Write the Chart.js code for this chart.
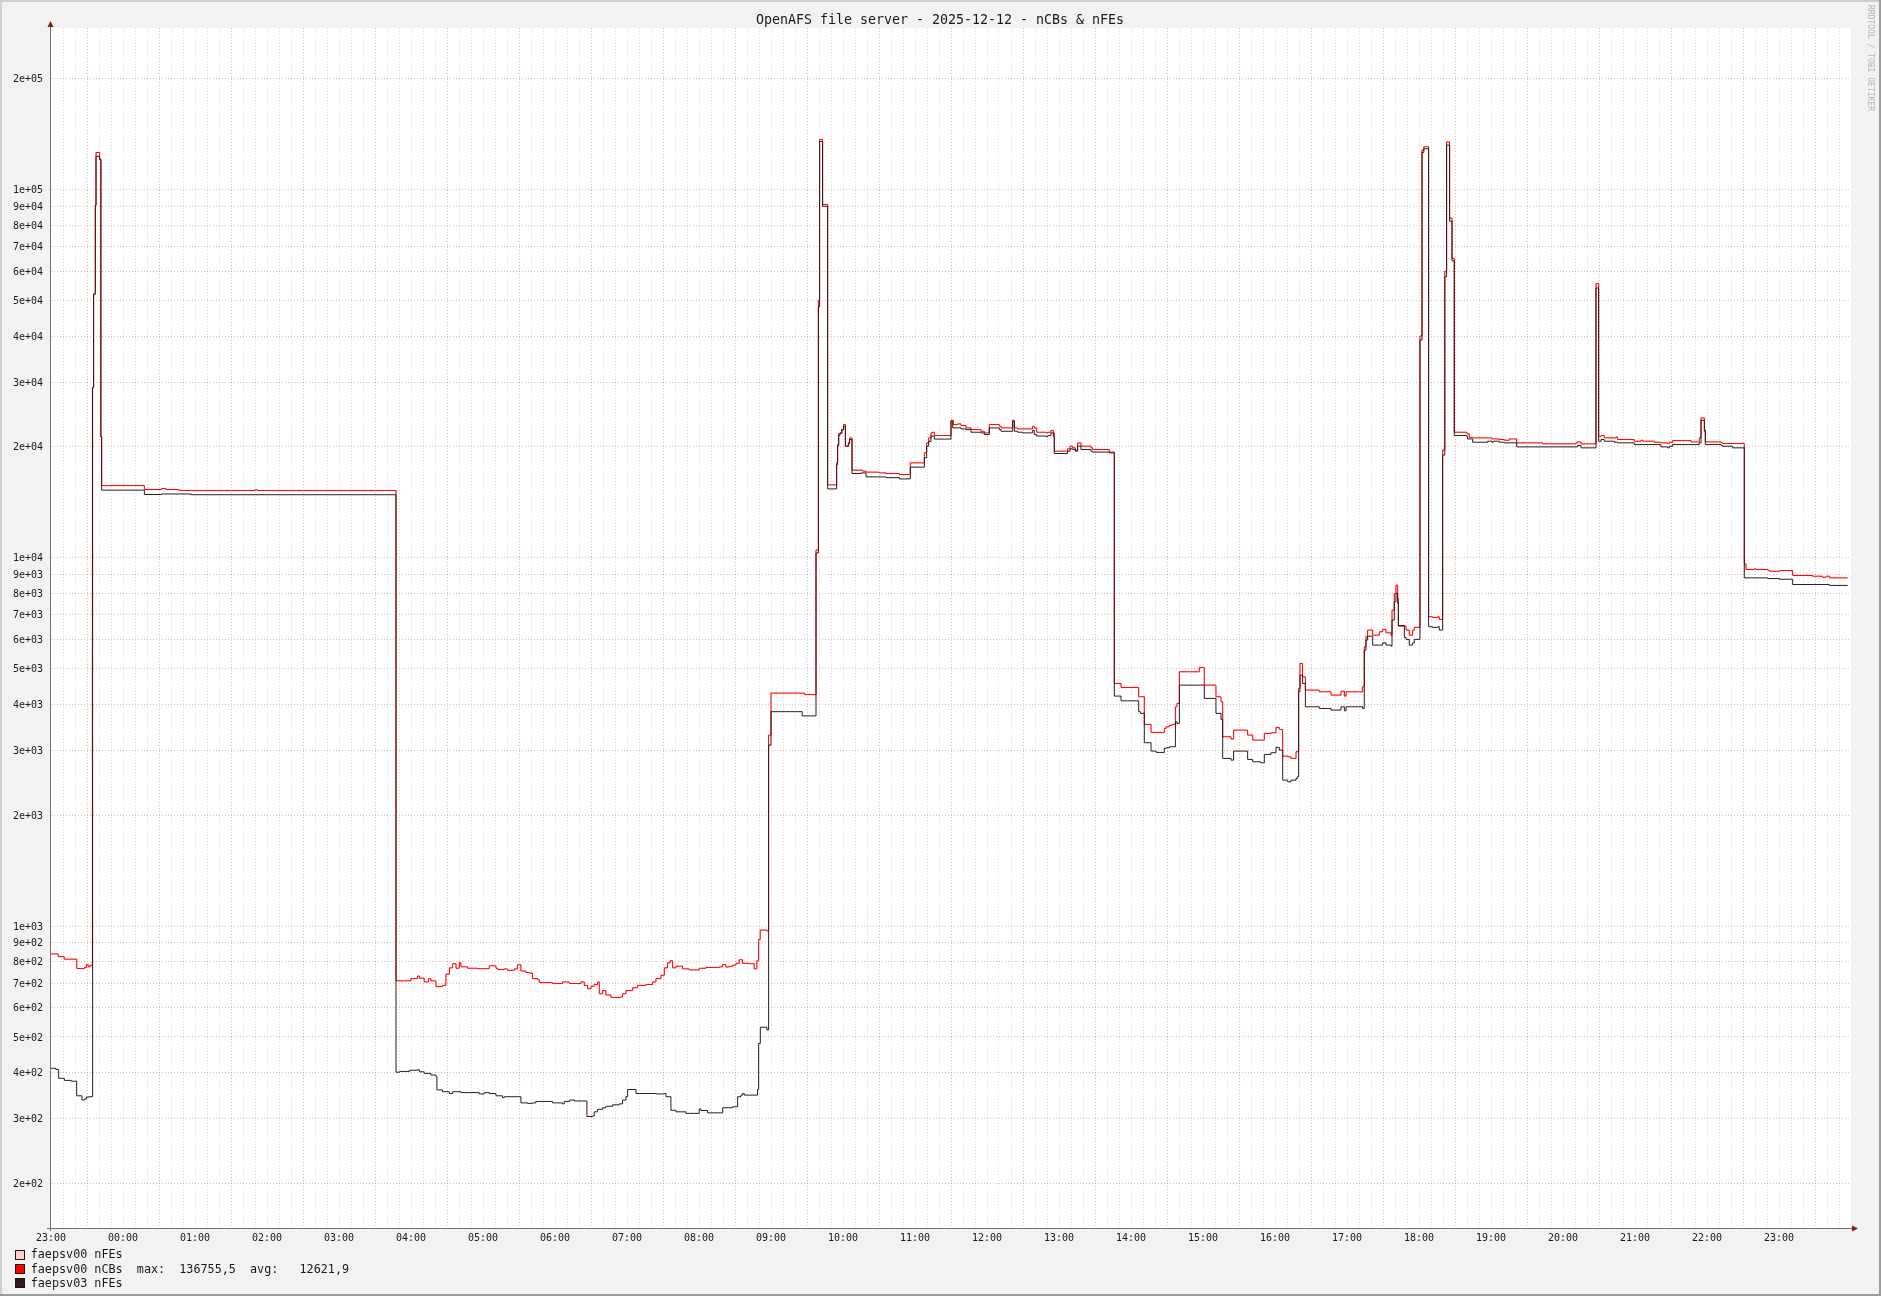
<!DOCTYPE html>
<html><head><meta charset="utf-8">
<script src="https://cdn.jsdelivr.net/npm/chart.js@4.4.1/dist/chart.umd.min.js"></script>
<style>html,body{margin:0;padding:0;background:#f2f2f2;overflow:hidden}canvas{display:block}</style>
</head><body>
<canvas id="c" width="1881" height="1296" style="width:1881px;height:1296px"></canvas>
<script>
// ---- texts ----
const chartTitle = 'OpenAFS file server - 2025-12-12 - nCBs & nFEs';
const watermark = 'RRDTOOL / TOBI OETIKER';
const legendLabels = ['faepsv00 nFEs', 'faepsv00 nCBs  max:  136755,5  avg:   12621,9', 'faepsv03 nFEs'];
const seriesNames = ['faepsv00 nFEs', 'faepsv00 nCBs', 'faepsv03 nFEs'];

// ---- axes ----
// x values are minutes since 2025-12-11 23:00
const xMin = 0, xMax = 1500;
const xTickLabels = ['23:00','00:00','01:00','02:00','03:00','04:00','05:00','06:00','07:00','08:00','09:00','10:00','11:00','12:00','13:00','14:00','15:00','16:00','17:00','18:00','19:00','20:00','21:00','22:00','23:00'];
const xGridMinutes = Array.from({length: 151}, (_, i) => i * 10);
const yMin = 151.4, yMax = 274400;
const yTickValues = [200,300,400,500,600,700,800,900,1000,2000,3000,4000,5000,6000,7000,8000,9000,10000,20000,30000,40000,50000,60000,70000,80000,90000,100000,200000];
const yTickLabels = ['2e+02','3e+02','4e+02','5e+02','6e+02','7e+02','8e+02','9e+02','1e+03','2e+03','3e+03','4e+03','5e+03','6e+03','7e+03','8e+03','9e+03','1e+04','2e+04','3e+04','4e+04','5e+04','6e+04','7e+04','8e+04','9e+04','1e+05','2e+05'];

// ---- data: faepsv00 nCBs (step changes: minute, value) ----
const nCBs00Minutes = [0,6,11,21.5,26,28,29.5,31,32.5,34.5,35.5,37,37.5,40.5,41.5,42.2,77.8,92.2,95.8,106.9,170,172,
287.5,300,305.5,307,311,314.7,316.6,320.8,326.3,329.1,332,334.7,337.5,340.2,341.6,347.2,355.5,365.2,370.8,372.2,377.7,380.5,386,388.8,391.6,395.8,398.6,401.3,405.5,406.9,418,426.3,431.9,441.6,444.4,447.2,450,452.7,455.5,456.9,459.7,462.4,466.6,475,476.3,479.1,484.7,488.8,495.8,501.3,504.1,508.3,511.1,513.8,516,518,520.8,526.3,531.9,540.2,545.8,556.9,559.7,562.4,565.2,568,570.8,573.5,576.3,581.9,586,588.2,589.7,591,596.5,
598,600,628,637.5,639.5,640.5,643,647.2,654.7,655.5,656.4,659,660.5,662,664.5,665.5,667.5,676.4,679.2,690.3,695.8,707,716.1,727.8,729.7,731.4,733.3,734.7,736.1,750,751.9,755.5,758.3,762.5,766.7,775,777.8,781.9,790.3,791.7,801.4,802.8,805.5,818,819.4,821.4,829.2,830.5,833.3,835.3,836.1,847.2,849.2,851.4,853.6,855.5,858.3,866.7,868,881.9,
886.1,891.7,906.4,911.1,916.7,927.8,929.2,931.9,934.2,937,938.3,940.3,956.9,961.1,970.8,975,976.4,983.3,985.5,997.2,1001.4,1011.1,1016.7,1020.8,1023.6,1026.4,1030.6,1033.3,1037.5,1039.7,1040.8,1043,1045.3,1056.9,1066.7,1075,1077.8,1079.2,1093,1094.4,1095.8,1097.2,1101.4,1107,1109.7,1112.5,1116.7,1117.5,1119.4,1120.8,1122.2,1122.8,1129.2,1131.9,1134.7,1136.1,
1140.8,1142.5,1144,1148,1151.4,1155.6,1156.9,1159.7,1161.5,1163,1165.5,1167.5,1169.4,1180,1181.9,1184.7,1200.8,1206.9,1211.1,1215.3,1221.4,1243,1270.8,1272.2,1275,1287.5,1289.7,1291.7,1294.4,1304.2,1305.5,1319.4,1325,1326.4,1336.1,1341.7,1347.2,1348.6,1351.4,1366.7,1373.6,1375,1377.8,1378.6,1391.7,1393,1411.1,1412.5,1419.4,1420.8,1430.6,1432,1440.3,1451.4,1468,1476.4,1479.2,1482,1497.2];
const nCBs00Values = [840,826,813,767,766,772,786,775,782,29000,52000,90600,126000,121000,21300,15700,15320,15420,15320,15230,15300,15230,
710,720,732,722,705,720,710,685,690,740,770,790,768,795,775,768,766,780,768,762,765,758,765,785,755,748,745,720,715,702,698,705,698,705,690,676,686,694,705,655,668,650,640,642,655,668,680,690,694,705,720,735,770,795,805,770,778,765,760,768,772,775,786,774,777,783,792,810,792,790,765,805,920,975,970,
3300,4290,4250,10500,50000,136755,91000,15770,18100,20300,21740,22280,22990,20090,20590,21160,17290,17190,17080,17000,16930,16820,18100,19270,20500,21160,21830,21920,21470,23620,22990,23090,22850,22520,22280,22050,21830,22990,22760,22520,23620,22520,22380,22760,22520,21920,21830,21920,22170,21830,19470,19760,20090,19880,19590,20500,20090,19880,19670,19360,
4557,4445,4193,3527,3356,3440,3476,3505,3527,3939,4022,4902,5037,4510,4193,4064,3266,3220,3404,3300,3198,3334,3348,3462,3418,2893,2881,2852,2974,4418,5164,4750,4372,4326,4237,4344,4210,4326,4465,5731,6101,6362,6164,6296,6390,6254,6164,7208,7998,8427,7755,6522,6362,6164,6362,6471,
40000,128000,130600,6914,6886,6914,6800,19600,60000,134600,83600,65000,21920,21690,21230,21160,21020,20940,20850,21020,20510,20380,20510,20630,20380,55500,21380,21470,21160,21280,20940,20720,20850,20720,20590,20510,20420,20590,20800,20630,21160,23970,22280,20630,20510,20420,9625,9290,9330,9290,9250,9190,9230,8948,8910,8850,8910,8818,8818];

// ---- data: faepsv03 nFEs ----
const nFEs03Minutes = [0,4,6.4,11.1,17,21.4,25.8,27.8,29.5,31.4,34.7,35.5,36.9,37.5,40.5,41.6,42.2,77.8,92.2,116.7,
287.5,290.5,299,305.5,307,311,316.6,320.8,321.6,326.3,331.9,334.7,341.6,356.9,361,365.2,370.8,376.3,377.7,391.6,397.2,401.3,404,418,426.3,427.7,432,436,446.6,451.4,452.7,455.5,459.7,462.4,468,473.5,476.3,479.1,480.5,487.5,504.1,511.1,512.5,516.6,520.8,529.1,540.2,541.6,547.2,559.7,568,572.2,575,576.3,577.7,588.8,589.7,591.1,596.6,
598,600,626,637.5,639.5,640.5,643,647.2,654.7,655.5,656.4,657.5,659,660.5,662,664.5,665.5,667.5,675,679.2,695.8,707,716.1,727.8,729.7,731.4,733.3,736.1,750,751.4,758.3,762.5,766.7,775,777.8,781.9,790.3,791.7,801.4,802.8,805.5,809.7,818,819.4,821.4,829.2,830.5,833.3,835.3,836.1,847.2,849.2,851.4,853.6,855.5,858.3,866.7,868,881.9,
886.1,891.7,906.4,908,911.1,916.7,921,927.8,929.2,931.9,937,938.3,940.3,961.1,970.8,975,976.4,983.3,985.5,997.2,1001.4,1008,1011.1,1016.7,1020.8,1023.6,1026.4,1030.6,1033.3,1037.5,1038.6,1039.7,1040.8,1043,1045.3,1056.9,1066.7,1075,1077.8,1079.2,1093,1094.4,1095.8,1097.2,1101.4,1109.7,1112.5,1116.7,1117.5,1119.4,1120.8,1122.2,1122.8,1127.8,1129.2,1131.9,1134.7,1136.1,
1140.8,1142.5,1144,1148,1151.4,1155.6,1156.9,1159.7,1161.5,1163,1165.5,1167.5,1169.4,1180,1180.5,1184.7,1197.2,1200.8,1201.9,1206.9,1211.1,1221.4,1270.8,1272.2,1275,1287.5,1289.7,1291.7,1294.4,1302.8,1305.5,1319.4,1341.7,1347.2,1348.6,1351.4,1373.6,1375,1377.8,1378.6,1391.7,1393,1401.4,1411.1,1430.6,1440.3,1451.4,1482,1497.2];
const nFEs03Values = [411,408,386,381,379,346,337,339,343,344,29000,52000,90600,123000,120500,21300,15260,14850,14900,14830,
401,403,406,407,402,398,394,390,359,355,351,355,353,350,353,351,346,342,344,331,330,331,334,331,329,334,337,335,304,305,313,318,321,324,327,329,337,344,360,351,350,351,344,316,313,310,318.5,315.6,311,321,323,344,347.5,351,347.5,360,480,531,522,
3100,3820,3720,10300,48000,135000,90000,15380,17910,20090,21470,21830,22280,22760,20090,20400,20940,16930,17000,16580,16500,16370,17620,18670,20090,20700,21400,21000,23480,22520,22380,22280,21920,21830,21600,22520,22280,22050,23480,22050,21920,21830,22170,21600,21400,21300,21470,21830,21300,19190,19470,19760,19670,19470,20090,19670,19470,19360,19270,
4211,4088,3818,3779,3146,2986,2961,3036,3049,3068,3586,3549,4510,4150,3779,3639,2852,2822,2986,2834,2793,2775,2924,2955,3055,3005,2490,2464,2490,2516,2543,4326,4799,4557,3939,3898,3858,3939,3840,3939,3898,5612,5976,6126,5792,5876,5792,5752,6771,7594,7998,7515,6547,6076,6002,5792,5876,6002,
39000,126000,129000,6497,6471,6497,6362,19000,58000,132000,82000,64000,21470,21280,21020,20590,20720,20590,20720,20590,20510,20000,20000,20170,19880,54000,20720,20940,20720,20590,20510,20290,20000,19880,20080,20290,20510,23620,22050,20290,20170,20080,19880,8818,8780,8743,8459,8412,8412];

// faepsv00 nFEs: follows nCBs exactly in the picture (hidden beneath it)
const nFEs00Minutes = nCBs00Minutes;
const nFEs00Values = nCBs00Values;

const seriesColors = ['#ffcccc', '#ff0000', '#2d1d1d'];

const toPoints = (ts, vs) => ts.map((t, i) => ({x: t, y: vs[i]}));
const FONT = "'DejaVu Sans Mono', 'Liberation Mono', monospace";

const decor = {
  id: 'decor',
  beforeDraw(chart) {
    const c = chart.ctx, a = chart.chartArea, W = chart.width, H = chart.height;
    c.save();
    c.fillStyle = '#f2f2f2'; c.fillRect(0, 0, W, H);
    c.fillStyle = '#ffffff'; c.fillRect(a.left, a.top, a.right - a.left, a.bottom - a.top);
    c.fillStyle = '#cfcfcf'; c.fillRect(0, 0, W, 2); c.fillRect(0, 0, 2, H);
    c.fillStyle = '#9c9c9c'; c.fillRect(0, H - 2, W, 2); c.fillRect(W - 2, 0, 2, H);
    c.restore();
  },
  beforeDatasetsDraw(chart) {
    const c = chart.ctx, a = chart.chartArea;
    c.save();
    c.strokeStyle = '#707070'; c.lineWidth = 1;
    c.beginPath();
    c.moveTo(a.left - 0.5, a.bottom + 3); c.lineTo(a.left - 0.5, a.top - 2);
    c.moveTo(a.left - 4, a.bottom + 0.5); c.lineTo(a.right + 2, a.bottom + 0.5);
    c.stroke();
    c.fillStyle = '#8b1a1a';
    c.beginPath();
    c.moveTo(a.left - 0.5, a.top - 7); c.lineTo(a.left - 3.5, a.top - 1); c.lineTo(a.left + 2.5, a.top - 1); c.closePath(); c.fill();
    c.beginPath();
    c.moveTo(a.right + 7, a.bottom + 0.5); c.lineTo(a.right + 1, a.bottom - 2.5); c.lineTo(a.right + 1, a.bottom + 3.5); c.closePath(); c.fill();
    c.restore();
  },
  afterDraw(chart) {
    const c = chart.ctx;
    c.save();
    c.fillStyle = '#1a1a1a';
    c.font = '13.3px ' + FONT;
    c.textAlign = 'center'; c.textBaseline = 'middle';
    c.fillText(chartTitle, 940, 20.5);
    // legend
    c.font = '11.75px ' + FONT;
    c.textAlign = 'left';
    const rows = [1254.5, 1269, 1283.3];
    legendLabels.forEach((t, i) => {
      c.fillStyle = seriesColors[i];
      c.fillRect(15.5, Math.round(rows[i]) - 4.5, 9, 9);
      c.strokeStyle = '#1a1a1a'; c.lineWidth = 1;
      c.strokeRect(15.5, Math.round(rows[i]) - 4.5, 9, 9);
      c.fillStyle = '#1a1a1a';
      c.fillText(t, 30.7, rows[i] + 0.5);
    });
    // watermark
    c.translate(1870.5, 5);
    c.rotate(Math.PI / 2);
    c.font = '8px ' + FONT;
    c.fillStyle = '#b4b4b4';
    c.textBaseline = 'middle';
    c.fillText(watermark, 0, 0);
    c.restore();
  }
};

new Chart(document.getElementById('c'), {
  type: 'line',
  data: {
    datasets: [
      {label: seriesNames[0], data: toPoints(nFEs00Minutes, nFEs00Values), borderColor: seriesColors[0], order: 3},
      {label: seriesNames[1], data: toPoints(nCBs00Minutes, nCBs00Values), borderColor: seriesColors[1], order: 2},
      {label: seriesNames[2], data: toPoints(nFEs03Minutes, nFEs03Values), borderColor: seriesColors[2], order: 1}
    ].map(d => Object.assign(d, {stepped: true, borderWidth: 1, pointRadius: 0, fill: false, tension: 0}))
  },
  options: {
    responsive: false, animation: false, devicePixelRatio: 1,
    layout: {padding: {left: 0, right: 30, top: 28, bottom: 0}},
    plugins: {legend: {display: false}, tooltip: {enabled: false}, title: {display: false}},
    scales: {
      x: {
        type: 'linear', min: xMin, max: xMax,
        afterBuildTicks: s => { s.ticks = xGridMinutes.map(v => ({value: v})); },
        afterFit: s => { s.height = 68; },
        ticks: {
          autoSkip: false, maxRotation: 0, minRotation: 0, padding: 4,
          font: {family: FONT, size: 10}, color: '#1a1a1a',
          callback: v => (v % 60 === 0 && v / 60 < xTickLabels.length) ? xTickLabels[v / 60] : ''
        },
        grid: {
          drawTicks: false, lineWidth: 1,
          color: ctx => {
            const v = ctx.tick ? ctx.tick.value : 0;
            if (v <= xMin || v >= xMax) return 'rgba(0,0,0,0)';
            return v % 60 === 30 ? 'rgba(220,90,90,0.45)' : 'rgba(150,150,150,0.32)';
          }
        },
        border: {display: false, dash: [1, 2]}
      },
      y: {
        type: 'logarithmic', min: yMin, max: yMax,
        afterBuildTicks: s => { s.ticks = yTickValues.map(v => ({value: v})); },
        afterFit: s => { s.width = 51; },
        ticks: {
          autoSkip: false, padding: 8, labelOffset: 1,
          font: {family: FONT, size: 10}, color: '#1a1a1a',
          callback: (v) => { const i = yTickValues.indexOf(v); return i >= 0 ? yTickLabels[i] : ''; }
        },
        grid: {drawTicks: false, lineWidth: 1, color: 'rgba(220,90,90,0.45)'},
        border: {display: false, dash: [1, 2]}
      }
    }
  },
  plugins: [decor]
});
</script>
</body></html>
